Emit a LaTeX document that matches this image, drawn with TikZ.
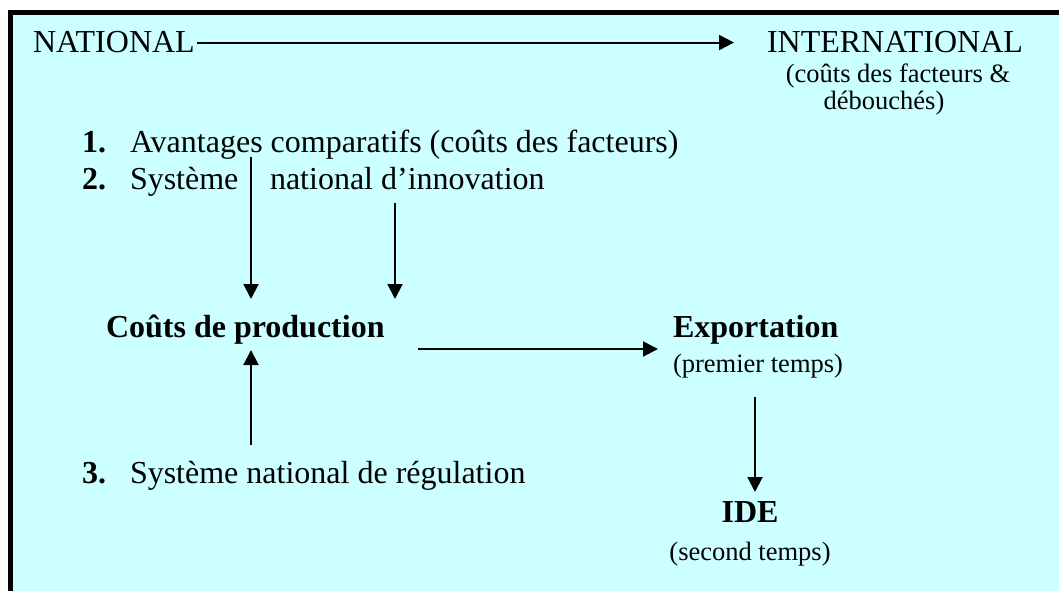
\documentclass[tikz,border=0pt]{standalone}
\usepackage{fontspec}
\setmainfont{Liberation Serif}
\usetikzlibrary{arrows.meta}
\definecolor{bgcyan}{HTML}{CCFFFF}
\newcommand{\bigtxt}{\fontsize{32}{38}\selectfont}
\newcommand{\smalltxt}{\fontsize{26.5}{32}\selectfont}
\tikzset{
  txt/.style={inner sep=0pt, outer sep=0pt, font=\bigtxt, anchor=base west},
  txtc/.style={inner sep=0pt, outer sep=0pt, font=\bigtxt, anchor=base},
  sub/.style={inner sep=0pt, outer sep=0pt, font=\smalltxt, anchor=base},
  subw/.style={inner sep=0pt, outer sep=0pt, font=\smalltxt, anchor=base west},
  arr/.style={line width=2pt, -{Triangle[length=15pt,width=15pt]}},
}
\begin{document}
\begin{tikzpicture}[x=1pt,y=-1pt]
\useasboundingbox (0,0) rectangle (1059,591);
\fill[white] (0,0) rectangle (1059,591);
\fill[bgcyan] (10.8,12.5) rectangle (1059,591);
\draw[line width=5pt, line join=miter] (10.8,591) -- (10.8,12.5) -- (1059,12.5);

% top row
\node[txt] (nat) at (33,53) {NATIONAL};
\node[txtc] (inter) at (895,53) {INTERNATIONAL};
\node[sub] (intera) at (898,83) {(coûts des facteurs \&};
\node[sub] (interb) at (884,110) {débouchés)};
\draw[arr, shorten <=2pt, shorten >=33pt] (nat.east) -- (inter.west);

% list
\node[txt] (n1) at (82,152) {\textbf{1.}};
\node[txt] (t1) at (130,152) {Avantages comparatifs (coûts des facteurs)};
\node[txt] (n2) at (82,189) {\textbf{2.}};
\node[txt] (t2a) at (130,189) {Système};
\node[txt] (t2b) at (270,189) {national d’innovation};

% center
\node[txt] (cout) at (106,337) {\textbf{Coûts de production}};
\node[txt] (exp) at (673,337) {\textbf{Exportation}};
\node[subw] (prem) at (673,372) {(premier temps)};
\node[txtc] (ide) at (750,522) {\textbf{IDE}};
\node[sub] (sec) at (750,560) {(second temps)};

\node[txt] (n3) at (82,483) {\textbf{3.}};
\node[txt] (t3) at (130,483) {Système national de régulation};

% arrow end points
\coordinate (a1s) at (251,157);
\coordinate (a1e) at (251,299);
\coordinate (a2s) at (395,203);
\coordinate (a2e) at (395,299);
\coordinate (a3s) at (251,445);
\coordinate (a3e) at (251,350);
\coordinate (a4s) at (418,349);
\coordinate (a4e) at (658,349);
\coordinate (a5s) at (755,397);
\coordinate (a5e) at (755,492);

\draw[arr] (a1s) -- (a1e);
\draw[arr] (a2s) -- (a2e);
\draw[arr] (a3s) -- (a3e);
\draw[arr] (a4s) -- (a4e);
\draw[arr] (a5s) -- (a5e);
\end{tikzpicture}
\end{document}
